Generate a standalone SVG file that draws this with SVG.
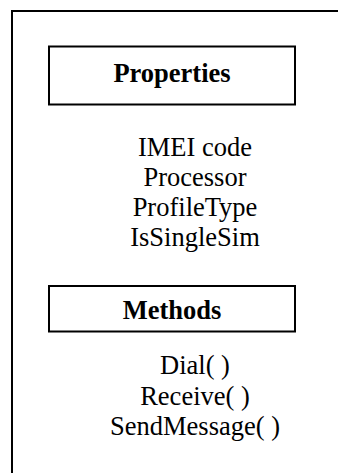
<svg xmlns="http://www.w3.org/2000/svg" width="338" height="473" viewBox="0 0 338 473">
<style>
.box{fill:#fff;stroke:#000;stroke-width:2}
.t{font-family:"Liberation Serif","Times New Roman",serif;font-size:26.5px;fill:#000;text-anchor:middle}
.b{font-weight:bold}
</style>
<rect width="338" height="473" fill="#fff"/>
<g id="frame"><rect x="12" y="11" width="400" height="500" fill="none" stroke="#000" stroke-width="2"/></g>
<g id="properties">
<rect class="box" x="49" y="46.5" width="246" height="58"/>
<text class="t b" x="172" y="82">Properties</text>
</g>
<g id="property-list">
<text class="t" x="195" y="156">IMEI code</text>
<text class="t" x="195" y="186">Processor</text>
<text class="t" x="195" y="216">ProfileType</text>
<text class="t" x="195" y="246">IsSingleSim</text>
</g>
<g id="methods">
<rect class="box" x="49" y="286" width="246" height="45.5"/>
<text class="t b" x="172" y="319">Methods</text>
</g>
<g id="method-list">
<text class="t" x="195" y="374">Dial( )</text>
<text class="t" x="195" y="405">Receive( )</text>
<text class="t" x="195" y="435">SendMessage( )</text>
</g>
<g id="connectors"></g>
</svg>
